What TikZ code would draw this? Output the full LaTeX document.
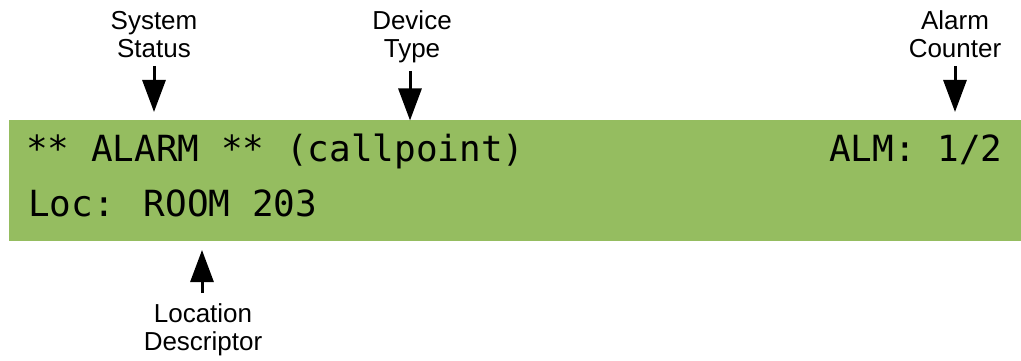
\documentclass[tikz,border=0pt]{standalone}
\usepackage{fontspec}
\setmainfont{Liberation Sans}
\newfontfamily\lcdfont{DejaVu Sans Mono}
\usetikzlibrary{arrows.meta}
\definecolor{lcdgreen}{HTML}{95BD60}
\tikzset{
  callout/.style={font=\fontsize{26}{28}\selectfont, align=center, inner sep=0pt, anchor=base},
  lcdtext/.style={font=\lcdfont\fontsize{36}{40}\selectfont, inner sep=0pt, anchor=base west},
  pointer/.style={line width=3pt, -{Triangle[length=32pt,width=23pt]}},
  panel/.style={fill=lcdgreen, draw=none, inner sep=0pt, anchor=north west,
                minimum width=1012pt, minimum height=120.5pt}
}
\begin{document}
\begin{tikzpicture}[x=1pt,y=-1pt]
  \useasboundingbox (0,0) rectangle (1021,361);

  % display panel
  \node[panel] (lcd) at (9,120) {};
  \node[lcdtext] (line1) at (26,161.7) {** ALARM ** (callpoint)};
  \node[lcdtext] (count) at (829,161.7) {ALM: 1/2};
  \node[lcdtext] (line2) at (28,216.7) {Loc: ROOM 203};

  % labels (anchored on the baseline of their last line)
  \node[callout] (sys) at (154,57.5) {System\\Status};
  \node[callout] (dev) at (412,57.5) {Device\\Type};
  \node[callout] (alm) at (955,57.5) {Alarm\\Counter};
  \node[callout] (loc) at (203,350) {Location\\Descriptor};

  % arrow ends
  \coordinate (sysTail) at (154,66);
  \coordinate (sysTip)  at (154,112);
  \coordinate (devTail) at (410,71);
  \coordinate (devTip)  at (410,120.5);
  \coordinate (almTail) at (955,66);
  \coordinate (almTip)  at (955,112);
  \coordinate (locTail) at (202,293);
  \coordinate (locTip)  at (202,250);

  \draw[pointer] (sysTail) -- (sysTip);
  \draw[pointer] (devTail) -- (devTip);
  \draw[pointer] (almTail) -- (almTip);
  \draw[pointer] (locTail) -- (locTip);
\end{tikzpicture}
\end{document}
